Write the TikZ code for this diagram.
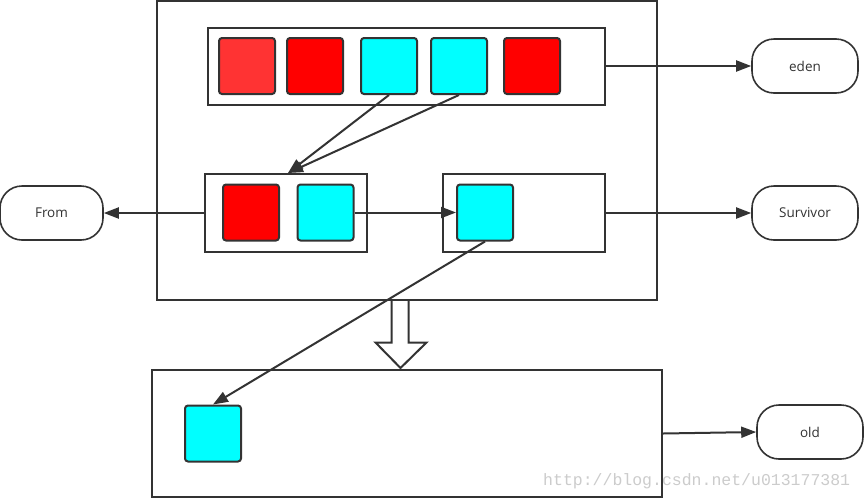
\documentclass[tikz,border=0pt]{standalone}
\usepackage{fontspec}
\setmainfont{Open Sans}
\newfontfamily\markfont{Liberation Mono}
\usetikzlibrary{arrows.meta}

\definecolor{linegray}{HTML}{333333}
\definecolor{cellred}{HTML}{FF0000}
\definecolor{celllight}{HTML}{FF3333}
\definecolor{cellcyan}{HTML}{00FFFF}

\tikzset{
  area/.style={draw=linegray, line width=2pt, fill=white, inner sep=0pt},
  cell/.style={draw=linegray, line width=2pt, rounded corners=3pt,
    minimum width=56pt, minimum height=56pt, inner sep=0pt},
  redcell/.style={cell, fill=cellred},
  lightcell/.style={cell, fill=celllight},
  cyancell/.style={cell, fill=cellcyan},
  terminal/.style={draw=linegray, line width=1.6pt, rounded corners=22pt,
    minimum width=106pt, minimum height=54pt, inner sep=0pt,
    font=\fontsize{13.5}{13.5}\selectfont, text=linegray},
  flow/.style={draw=linegray, line width=2pt,
    -{Triangle[length=15pt, width=11pt]}}
}

\begin{document}
\begin{tikzpicture}[x=1pt, y=-1pt]

  % page frame
  \useasboundingbox[fill=white] (0,0) rectangle (864,499);

  % the young generation
  \node[area, minimum width=500pt, minimum height=299pt] (heap) at (407,150.5) {};
  \node[area, minimum width=397pt, minimum height=77pt] (eden) at (406.5,66) {};
  \node[area, minimum width=162pt, minimum height=78pt] (fromarea) at (286,213) {};
  \node[area, minimum width=162pt, minimum height=78pt] (toarea) at (524,213) {};

  % the old generation
  \node[area, minimum width=510pt, minimum height=127pt] (oldarea) at (407,433.5) {};

  % objects in eden
  \node[lightcell] (e1) at (247,66) {};
  \node[redcell]   (e2) at (315,66) {};
  \node[cyancell]  (e3) at (389,66) {};
  \node[cyancell]  (e4) at (459,66) {};
  \node[redcell]   (e5) at (532,66) {};

  % objects in the survivor spaces
  \node[redcell]  (f1) at (251,212.5) {};
  \node[cyancell] (f2) at (325.5,212.5) {};
  \node[cyancell] (t1) at (485,212.5) {};
  \node[cyancell] (o1) at (213,433.5) {};

  % labels
  \node[terminal, minimum width=103pt] (fromlabel) at (51.5,213) {From};
  \node[terminal] (edenlabel) at (805,66) {eden};
  \node[terminal] (survivor) at (805,213) {Survivor};
  \node[terminal] (oldlabel) at (810,432) {old};

  % copying between the spaces
  \draw[flow] (e3.south) -- ([xshift=2pt]fromarea.north);
  \draw[flow] (e4.south) -- ([xshift=2pt]fromarea.north);
  \draw[flow] (f2.east) -- (t1.west);
  \draw[flow] (t1.south) -- (o1.north);

  % links to the labels
  \draw[flow] (eden.east) -- (edenlabel.west);
  \draw[flow] (fromarea.west) -- (fromlabel.east);
  \draw[flow] (toarea.east) -- (survivor.west);
  \draw[flow] (oldarea.east) -- (oldlabel.west);

  % promotion arrow
  \draw[linegray, line width=2pt, fill=white, line join=miter]
    (391.5,301) -- (391.5,342.5) -- (375.5,342.5) -- (400.5,368)
    -- (426.5,342.5) -- (408.5,342.5) -- (408.5,301);

  \node[anchor=base west, inner sep=0pt, text=black!20,
    font=\markfont\fontsize{16.5}{16.5}\selectfont] (mark) at (543,485)
    {http://blog.csdn.net/u013177381};

\end{tikzpicture}
\end{document}
